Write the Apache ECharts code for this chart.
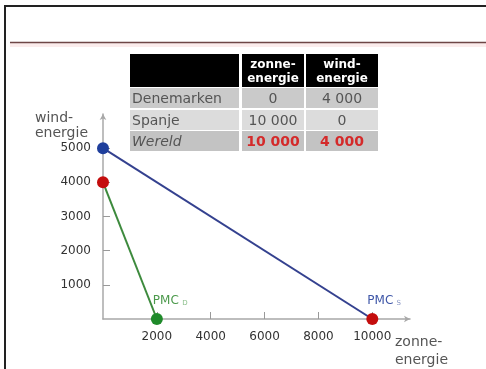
<!DOCTYPE html>
<html>
<head>
<meta charset="utf-8">
<script src="https://cdn.jsdelivr.net/npm/echarts@6/dist/echarts.min.js"></script>
<style>
  html, body { margin: 0; padding: 0; background: #fff; }
  #chart { width: 486px; height: 369px; }
</style>
</head>
<body>
<div id="chart"></div>
<script>
// Production table
const countries = ['Denemarken', 'Spanje', 'Wereld'];
const tableHeads = ['zonne-\nenergie', 'wind-\nenergie'];
const solarOutput = [0, 10000, 10000];
const windOutput = [4000, 0, 4000];

// Production possibility curves (zonne-energie, wind-energie)
const pmcSpanje = [[0, 5000], [10000, 0]];
const pmcDenemarken = [[0, 4000], [2000, 0]];

// Highlighted points
const bluePoints = [[0, 5000]];
const redPoints = [[0, 4000], [10000, 0]];
const greenPoints = [[2000, 0]];

// Axis ticks
const xTicks = [2000, 4000, 6000, 8000, 10000];
const yTicks = [1000, 2000, 3000, 4000, 5000];

const FONT = 'DejaVu Sans';

function fmt(n) {
  return String(n).replace(/\B(?=(\d{3})+(?!\d))/g, ' ');
}

// Table geometry
const colX = [130, 242, 306];
const colW = [109, 62, 72];
const headTop = 54, headH = 33;
const rowTop = [88, 110, 131];
const rowH = [20, 20, 20];
const rowFill = ['#cacaca', '#dcdcdc', '#c3c3c3'];

const graphics = [];

// Slide frame and header rule
graphics.push({ type: 'line', shape: { x1: 5, y1: 6, x2: 486, y2: 6 }, style: { stroke: '#222', lineWidth: 2 } });
graphics.push({ type: 'line', shape: { x1: 5, y1: 5, x2: 5, y2: 369 }, style: { stroke: '#222', lineWidth: 2 } });
graphics.push({ type: 'rect', shape: { x: 10, y: 43, width: 476, height: 4 }, style: { fill: '#fbecec' } });
graphics.push({ type: 'line', shape: { x1: 10, y1: 42.5, x2: 486, y2: 42.5 }, style: { stroke: '#6e4646', lineWidth: 1.5 } });

// Table header
for (let c = 0; c < 3; c++) {
  graphics.push({ type: 'rect', shape: { x: colX[c], y: headTop, width: colW[c], height: headH }, style: { fill: '#000' } });
}
tableHeads.forEach(function (h, i) {
  graphics.push({
    type: 'text',
    x: colX[i + 1] + colW[i + 1] / 2,
    y: headTop + headH / 2 + 1,
    style: { text: h, fill: '#fff', font: 'bold 12px "' + FONT + '"', align: 'center', verticalAlign: 'middle', lineHeight: 14 }
  });
});

// Table rows
countries.forEach(function (name, r) {
  const last = r === countries.length - 1;
  for (let c = 0; c < 3; c++) {
    graphics.push({ type: 'rect', shape: { x: colX[c], y: rowTop[r], width: colW[c], height: rowH[r] }, style: { fill: rowFill[r] } });
  }
  const cy = rowTop[r] + rowH[r] / 2 + 1;
  graphics.push({
    type: 'text', x: colX[0] + 2, y: cy,
    style: { text: name, fill: '#555', font: (last ? 'italic ' : '') + '14px "' + FONT + '"', align: 'left', verticalAlign: 'middle' }
  });
  [solarOutput[r], windOutput[r]].forEach(function (v, k) {
    graphics.push({
      type: 'text', x: colX[k + 1] + colW[k + 1] / 2, y: cy,
      style: {
        text: fmt(v),
        fill: last ? '#d42a2a' : '#555',
        font: (last ? 'bold ' : '') + '14px "' + FONT + '"',
        align: 'center', verticalAlign: 'middle'
      }
    });
  });
});

// Axis names
graphics.push({ type: 'text', x: 35, y: 111, style: { text: 'wind-\nenergie', fill: '#555', font: '14px "' + FONT + '"', lineHeight: 15 } });
graphics.push({ type: 'text', x: 395, y: 333, style: { text: 'zonne-\nenergie', fill: '#555', font: '14px "' + FONT + '"', lineHeight: 18 } });

const chart = echarts.init(document.getElementById('chart'), null, { renderer: 'canvas' });

const axisCommon = {
  type: 'value',
  min: 0,
  interval: 1000,
  splitLine: { show: false },
  axisLine: { show: true, lineStyle: { color: '#a8a8a8', width: 1.5 }, symbol: ['none', 'arrow'], symbolSize: [5, 6] },
  axisLabel: { color: '#333', fontFamily: FONT, fontSize: 12, margin: 12, formatter: function (v) { return String(v); } }
};

chart.setOption({
  animation: false,
  backgroundColor: '#fff',
  grid: { left: 103, right: 76, top: 114, bottom: 50, containLabel: false },
  xAxis: Object.assign({}, axisCommon, {
    max: 11400,
    axisTick: { show: true, inside: true, length: 7, customValues: xTicks, lineStyle: { color: '#999' } },
    axisLabel: Object.assign({}, axisCommon.axisLabel, { customValues: xTicks })
  }),
  yAxis: Object.assign({}, axisCommon, {
    max: 6000,
    axisTick: { show: true, inside: true, length: 7, customValues: yTicks, lineStyle: { color: '#999' } },
    axisLabel: Object.assign({}, axisCommon.axisLabel, { customValues: yTicks })
  }),
  graphic: graphics,
  series: [
    {
      type: 'line', data: pmcSpanje, symbol: 'none', z: 2,
      lineStyle: { color: '#34418f', width: 2 }
    },
    {
      type: 'line', data: pmcDenemarken, symbol: 'none', z: 2,
      lineStyle: { color: '#3d8a3d', width: 2 }
    },
    {
      type: 'scatter', data: bluePoints, symbolSize: 12, z: 5,
      itemStyle: { color: '#1f3f9c', opacity: 1 }
    },
    {
      type: 'scatter', data: redPoints, symbolSize: 12, z: 5,
      itemStyle: { color: '#c40d0d', opacity: 1 },
      label: {
        show: true, position: 'top', align: 'left', distance: 6,
        formatter: function (p) { return p.value[0] > 0 ? '{m|PMC} {s|S}' : ''; },
        offset: [-5, 0],
        rich: {
          m: { color: '#3f57a8', fontFamily: FONT, fontSize: 12 },
          s: { color: '#8a97c4', fontFamily: FONT, fontSize: 7, verticalAlign: 'bottom', padding: [6, 0, 0, 0] }
        }
      }
    },
    {
      type: 'scatter', data: greenPoints, symbolSize: 12, z: 5,
      itemStyle: { color: '#1f8a2a', opacity: 1 },
      label: {
        show: true, position: 'top', align: 'left', distance: 6,
        formatter: '{m|PMC} {s|D}',
        offset: [-4, 0],
        rich: {
          m: { color: '#4c9a4c', fontFamily: FONT, fontSize: 12 },
          s: { color: '#8cc08c', fontFamily: FONT, fontSize: 7, verticalAlign: 'bottom', padding: [6, 0, 0, 0] }
        }
      }
    }
  ]
});
</script>
</body>
</html>
